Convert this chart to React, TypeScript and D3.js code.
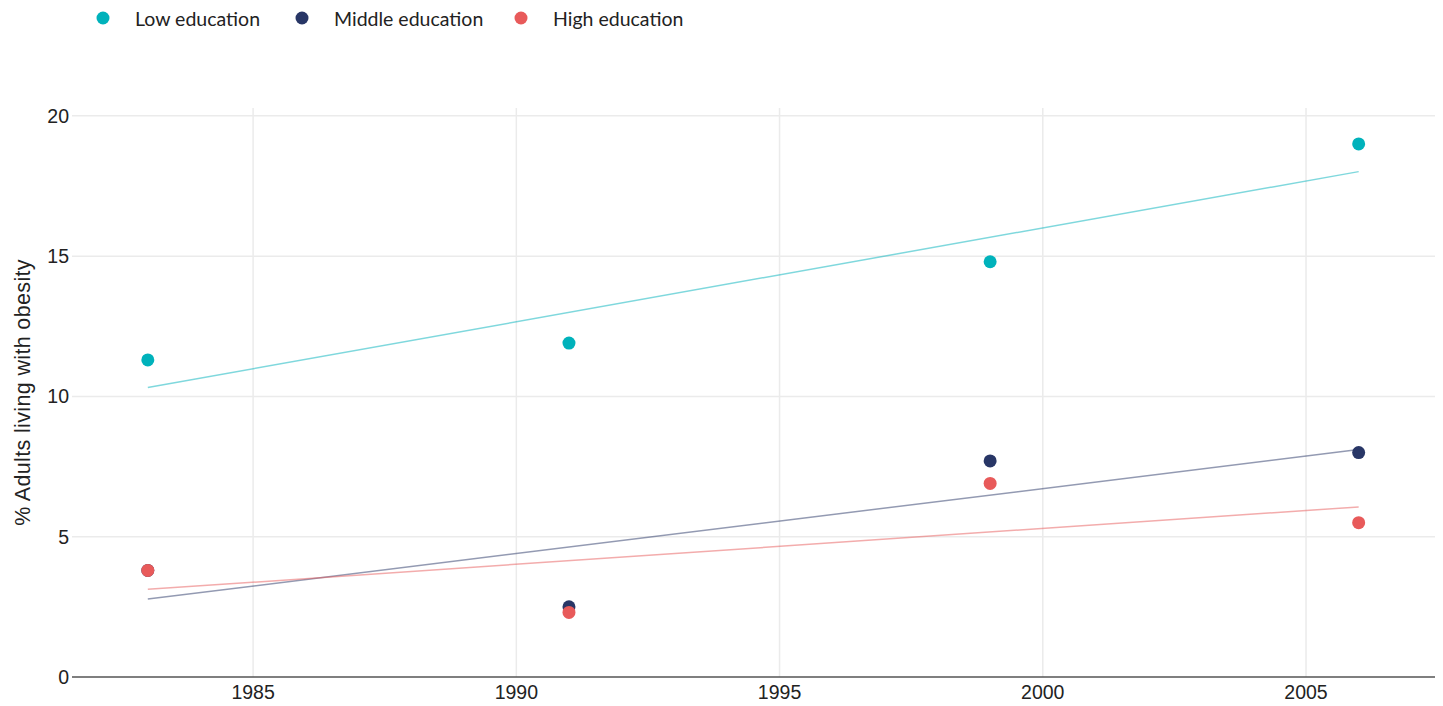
import React from "react";
import * as d3 from "d3";

const years = [1983, 1991, 1999, 2006];
const lowEducation = [11.3, 11.9, 14.8, 19.0];
const middleEducation = [3.8, 2.5, 7.7, 8.0];
const highEducation = [3.8, 2.3, 6.9, 5.5];
const seriesNames = ["Low education", "Middle education", "High education"];
const seriesColors = ["#00b2bb", "#283666", "#e85a5a"];
const xTicks = [1985, 1990, 1995, 2000, 2005];
const yTicks = [0, 5, 10, 15, 20];

const W = 1443;
const H = 706;
const margin = { left: 72, right: 8, top: 108, bottom: 29 };

function regression(xs: number[], ys: number[]) {
  const mx = d3.mean(xs)!;
  const my = d3.mean(ys)!;
  let sxy = 0, sxx = 0;
  xs.forEach((x, i) => { sxy += (x - mx) * (ys[i] - my); sxx += (x - mx) ** 2; });
  const b = sxy / sxx;
  const a = my - b * mx;
  return (x: number) => a + b * x;
}

export default function App() {
  const x = d3.scaleLinear().domain([1981.56, 2007.45]).range([margin.left, W - margin.right]);
  const y = d3.scaleLinear().domain([0, 20.28]).range([H - margin.bottom, margin.top]);
  const series = [lowEducation, middleEducation, highEducation];
  const x0 = d3.min(years)!;
  const x1 = d3.max(years)!;
  const line = d3.line<[number, number]>().x(d => x(d[0])).y(d => y(d[1]));
  const font = "'Liberation Sans', Arial, sans-serif";

  return (
    <svg width={W} height={H} style={{ position: "absolute", left: 0, top: 0, background: "#fff" }}>
      {/* gridlines */}
      {xTicks.map(t => (
        <line key={"gx" + t} x1={x(t)} x2={x(t)} y1={y.range()[1]} y2={y(0)} stroke="#ebebeb" strokeWidth={1.5} />
      ))}
      {yTicks.filter(t => t > 0).map(t => (
        <line key={"gy" + t} x1={margin.left} x2={W - margin.right} y1={y(t)} y2={y(t)} stroke="#ebebeb" strokeWidth={1.5} />
      ))}
      {/* axis line */}
      <line x1={margin.left} x2={W - margin.right} y1={y(0)} y2={y(0)} stroke="#555" strokeWidth={1.5} />
      {/* tick labels */}
      {yTicks.map(t => (
        <text key={"ty" + t} x={margin.left - 3} y={y(t)} dy="0.36em" textAnchor="end"
          fontFamily={font} fontSize={19.5} fill="#222">{t}</text>
      ))}
      {xTicks.map(t => (
        <text key={"tx" + t} x={x(t)} y={y(0) + 22} textAnchor="middle"
          fontFamily={font} fontSize={19.5} fill="#222">{t}</text>
      ))}
      {/* y axis title */}
      <text transform={`translate(30, ${(y(0) + y(20)) / 2 - 4}) rotate(-90)`} textAnchor="middle"
        fontFamily={font} fontSize={21.5} letterSpacing={0.35} fill="#222">% Adults living with obesity</text>
      {/* trend lines */}
      {series.map((s, i) => {
        const f = regression(years, s);
        return (
          <path key={"tr" + i} d={line([[x0, f(x0)], [x1, f(x1)]])!} stroke={seriesColors[i]} strokeOpacity={0.5}
            strokeWidth={1.5} fill="none" />
        );
      })}
      {/* points */}
      {series.map((s, i) =>
        s.map((v, j) => (
          <circle key={`p${i}-${j}`} cx={x(years[j])} cy={y(v)} r={6.5} fill={seriesColors[i]} />
        ))
      )}
      {/* legend */}
      {seriesNames.map((n, i) => {
        const lx = [103, 302, 521][i];
        return (
          <g key={"lg" + i}>
            <circle cx={lx} cy={18} r={6.5} fill={seriesColors[i]} />
            <text x={lx + 32} y={19} dy="0.35em" fontFamily="Lato, sans-serif" fontSize={19.5} fill="#222">{n}</text>
          </g>
        );
      })}
    </svg>
  );
}
